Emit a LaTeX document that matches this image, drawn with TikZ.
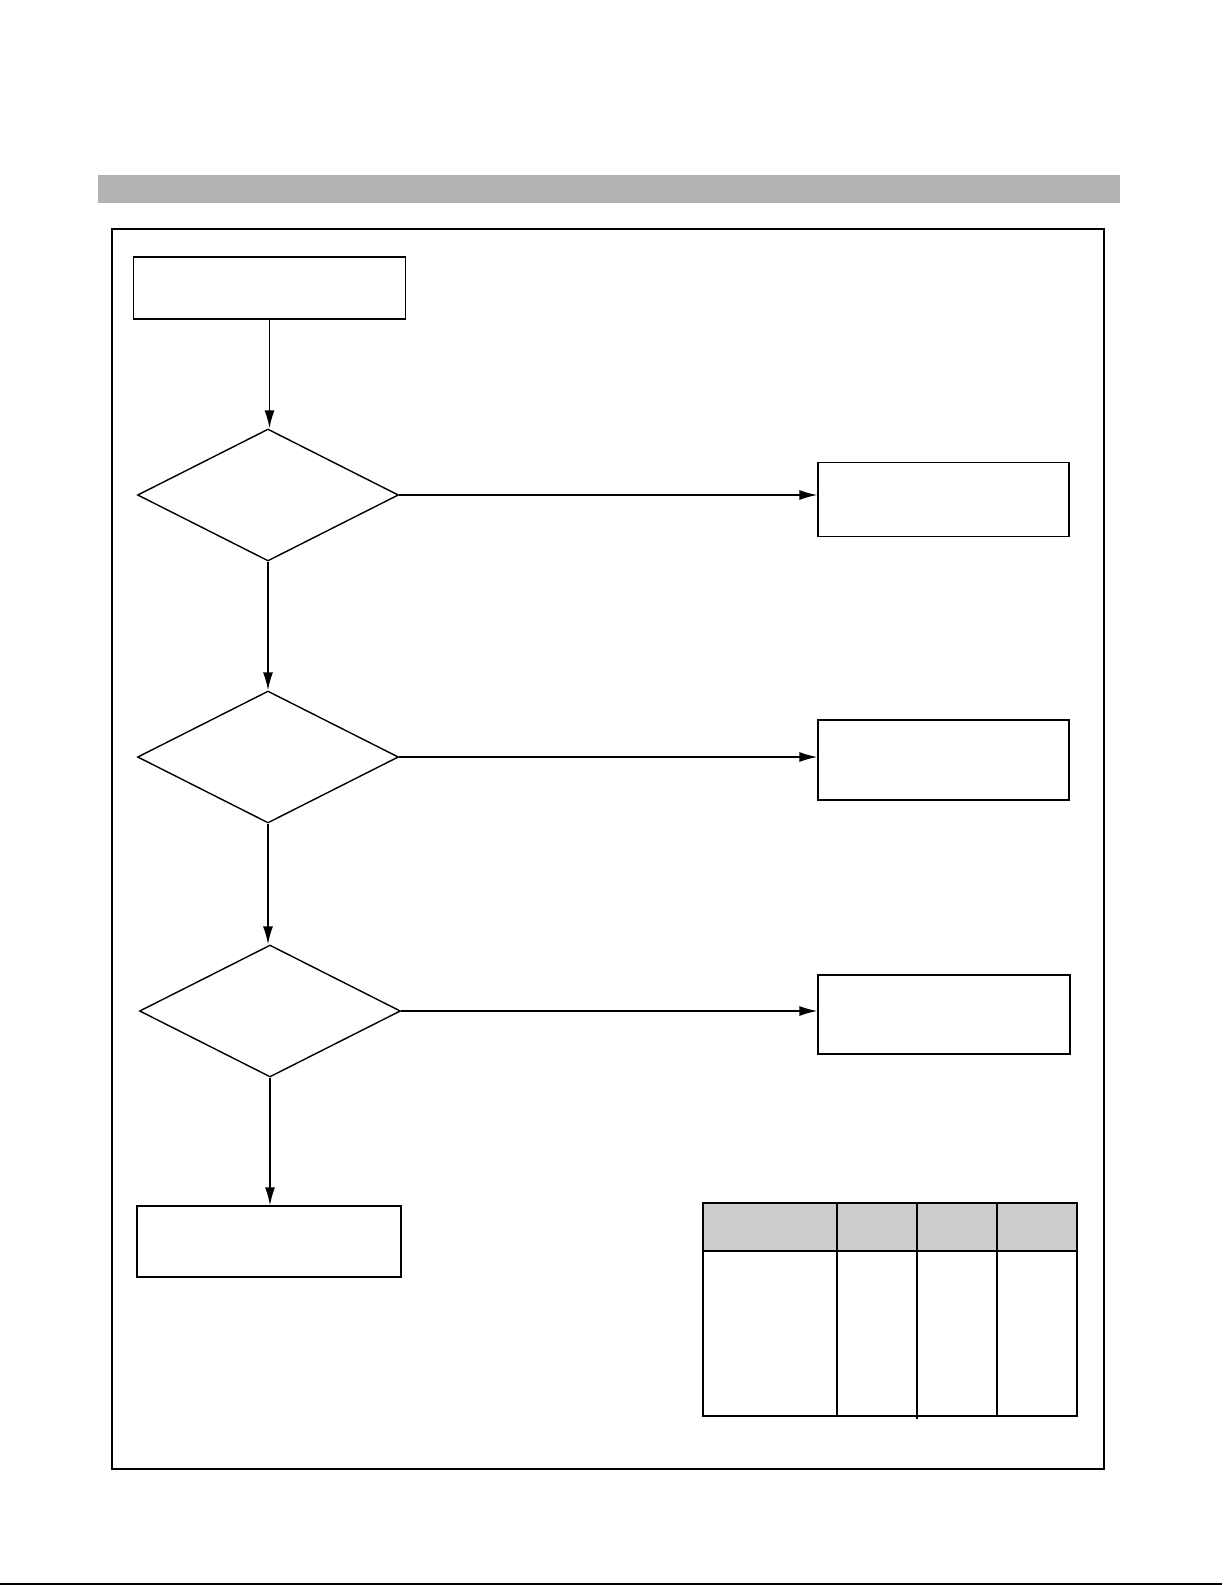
\documentclass[tikz,border=0pt]{standalone}
\usepackage{tikz}
\usetikzlibrary{shapes.geometric, arrows.meta}
\definecolor{barGray}{RGB}{178, 178, 178}
\definecolor{headGray}{RGB}{204, 204, 204}

\begin{document}
\begin{tikzpicture}[x=0.02cm, y=-0.02cm, line width=0.8pt,
    stepbox/.style={draw, rectangle, inner sep=0pt},
    check/.style={draw, diamond, aspect=2, inner sep=0pt, minimum width=5.22cm, minimum height=2.64cm},
    flow/.style={-{Latex[length=3.6mm, width=2mm]}}]
        \useasboundingbox (0,0) rectangle (1225,1585);
        % header bar and frame
        \fill[barGray] (98,175) rectangle (1120,203);
        \draw (112,229) rectangle (1104,1469);
        \draw (0,1584) -- (1222,1584);

        \node[stepbox, minimum width=5.44cm, minimum height=1.24cm] (start) at (269.5,288) {};
        \node[check] (chk1) at (268,495) {};
        \node[check] (chk2) at (268,757) {};
        \node[check] (chk3) at (270,1011) {};
        \node[stepbox, minimum width=5.02cm, minimum height=1.48cm] (fix1) at (943.5,499.5) {};
        \node[stepbox, minimum width=5.02cm, minimum height=1.6cm] (fix2) at (943.5,760) {};
        \node[stepbox, minimum width=5.04cm, minimum height=1.58cm] (fix3) at (944,1014.5) {};
        \node[stepbox, minimum width=5.28cm, minimum height=1.42cm] (done) at (269,1241.5) {};

        \draw[flow] (start.south) -- (start.south |- chk1.north);
        \draw[flow] (chk1.south) -- (chk2.north);
        \draw[flow] (chk2.south) -- (chk2.south |- chk3.north);
        \draw[flow] (chk3.south) -- (chk3.south |- done.north);
        \draw[flow] (chk1.east) -- (chk1.east -| fix1.west);
        \draw[flow] (chk2.east) -- (chk2.east -| fix2.west);
        \draw[flow] (chk3.east) -- (chk3.east -| fix3.west);

        % table
        \fill[headGray] (703,1203) rectangle (1077,1251);
        \draw (703,1203) rectangle (1077,1416);
        \draw (703,1251) -- (1077,1251);
        \draw (837,1203) -- (837,1416);
        \draw (917,1203) -- (917,1419);
        \draw (997,1203) -- (997,1416);
      \end{tikzpicture}
\end{document}
